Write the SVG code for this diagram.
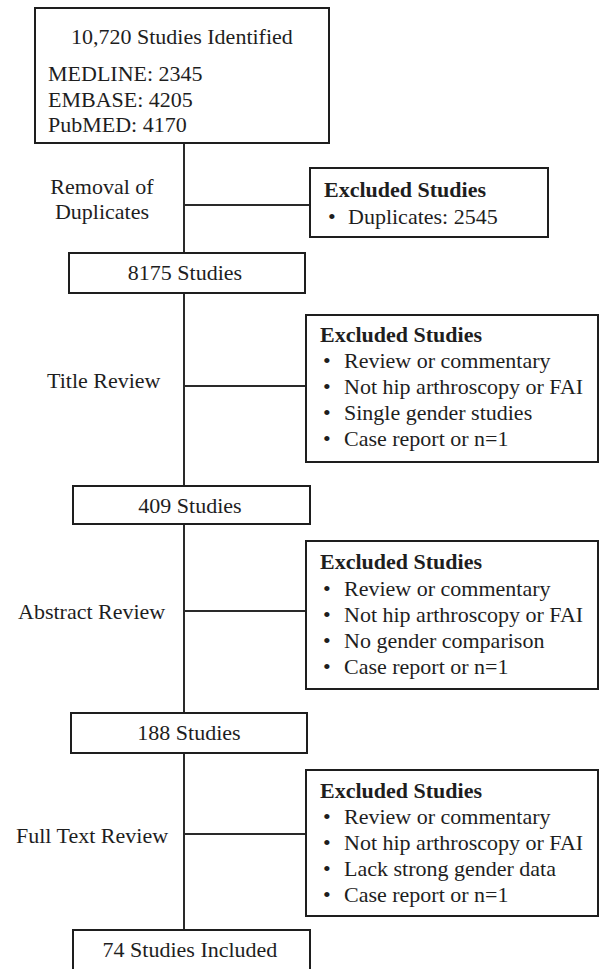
<svg xmlns="http://www.w3.org/2000/svg" width="599" height="969" viewBox="0 0 599 969">
<style>
.box{fill:#fff;stroke:#1e1e1e;stroke-width:2}
.ln{stroke:#2a2a2a;stroke-width:2;fill:none}
text{font-family:"Liberation Serif","Times New Roman",serif;font-size:22px;fill:#1e1e1e}
.b{font-weight:bold}
.c{text-anchor:middle}
</style>
<rect width="599" height="969" fill="#fff"/>
<g id="connectors">
<line class="ln" x1="184" y1="143" x2="184" y2="253"/>
<line class="ln" x1="184" y1="205" x2="310" y2="205"/>
<line class="ln" x1="184" y1="293" x2="184" y2="486"/>
<line class="ln" x1="184" y1="386" x2="306" y2="386"/>
<line class="ln" x1="184" y1="524" x2="184" y2="713"/>
<line class="ln" x1="184" y1="611" x2="306" y2="611"/>
<line class="ln" x1="184" y1="753" x2="184" y2="930"/>
<line class="ln" x1="184" y1="834" x2="306" y2="834"/>
</g>
<g id="identified">
<rect class="box" x="35" y="8" width="294" height="135"/>
<text x="71" y="44">10,720 Studies Identified</text>
<text x="48" y="81">MEDLINE: 2345</text>
<text x="48" y="107">EMBASE: 4205</text>
<text x="48" y="132">PubMED: 4170</text>
</g>
<g id="label-duplicates">
<text class="c" x="102" y="194">Removal of</text>
<text class="c" x="102" y="219">Duplicates</text>
</g>
<g id="excluded-1">
<rect class="box" x="310" y="168" width="238" height="69"/>
<text class="b" x="324" y="197">Excluded Studies</text>
<text x="328" y="224">•</text><text x="348" y="224">Duplicates: 2545</text>
</g>
<g id="s8175">
<rect class="box" x="69" y="253" width="236" height="40"/>
<text class="c" x="185" y="280">8175 Studies</text>
</g>
<g id="label-title">
<text x="47" y="388">Title Review</text>
</g>
<g id="excluded-2">
<rect class="box" x="306" y="315" width="292" height="147"/>
<text class="b" x="320" y="342">Excluded Studies</text>
<text x="323" y="368">•</text><text x="344" y="368">Review or commentary</text>
<text x="323" y="394">•</text><text x="344" y="394">Not hip arthroscopy or FAI</text>
<text x="323" y="420">•</text><text x="344" y="420">Single gender studies</text>
<text x="323" y="446">•</text><text x="344" y="446">Case report or n=1</text>
</g>
<g id="s409">
<rect class="box" x="73" y="486" width="237" height="38"/>
<text class="c" x="190" y="513">409 Studies</text>
</g>
<g id="label-abstract">
<text x="18" y="619">Abstract Review</text>
</g>
<g id="excluded-3">
<rect class="box" x="306" y="541" width="292" height="148"/>
<text class="b" x="320" y="569">Excluded Studies</text>
<text x="323" y="596">•</text><text x="344" y="596">Review or commentary</text>
<text x="323" y="622">•</text><text x="344" y="622">Not hip arthroscopy or FAI</text>
<text x="323" y="648">•</text><text x="344" y="648">No gender comparison</text>
<text x="323" y="674">•</text><text x="344" y="674">Case report or n=1</text>
</g>
<g id="s188">
<rect class="box" x="71" y="713" width="236" height="40"/>
<text class="c" x="189" y="740">188 Studies</text>
</g>
<g id="label-fulltext">
<text x="16" y="843">Full Text Review</text>
</g>
<g id="excluded-4">
<rect class="box" x="306" y="770" width="292" height="146"/>
<text class="b" x="320" y="798">Excluded Studies</text>
<text x="323" y="824">•</text><text x="344" y="824">Review or commentary</text>
<text x="323" y="850">•</text><text x="344" y="850">Not hip arthroscopy or FAI</text>
<text x="323" y="876">•</text><text x="344" y="876">Lack strong gender data</text>
<text x="323" y="902">•</text><text x="344" y="902">Case report or n=1</text>
</g>
<g id="s74">
<rect class="box" x="73" y="930" width="237" height="45"/>
<text class="c" x="190" y="957">74 Studies Included</text>
</g>
</svg>
